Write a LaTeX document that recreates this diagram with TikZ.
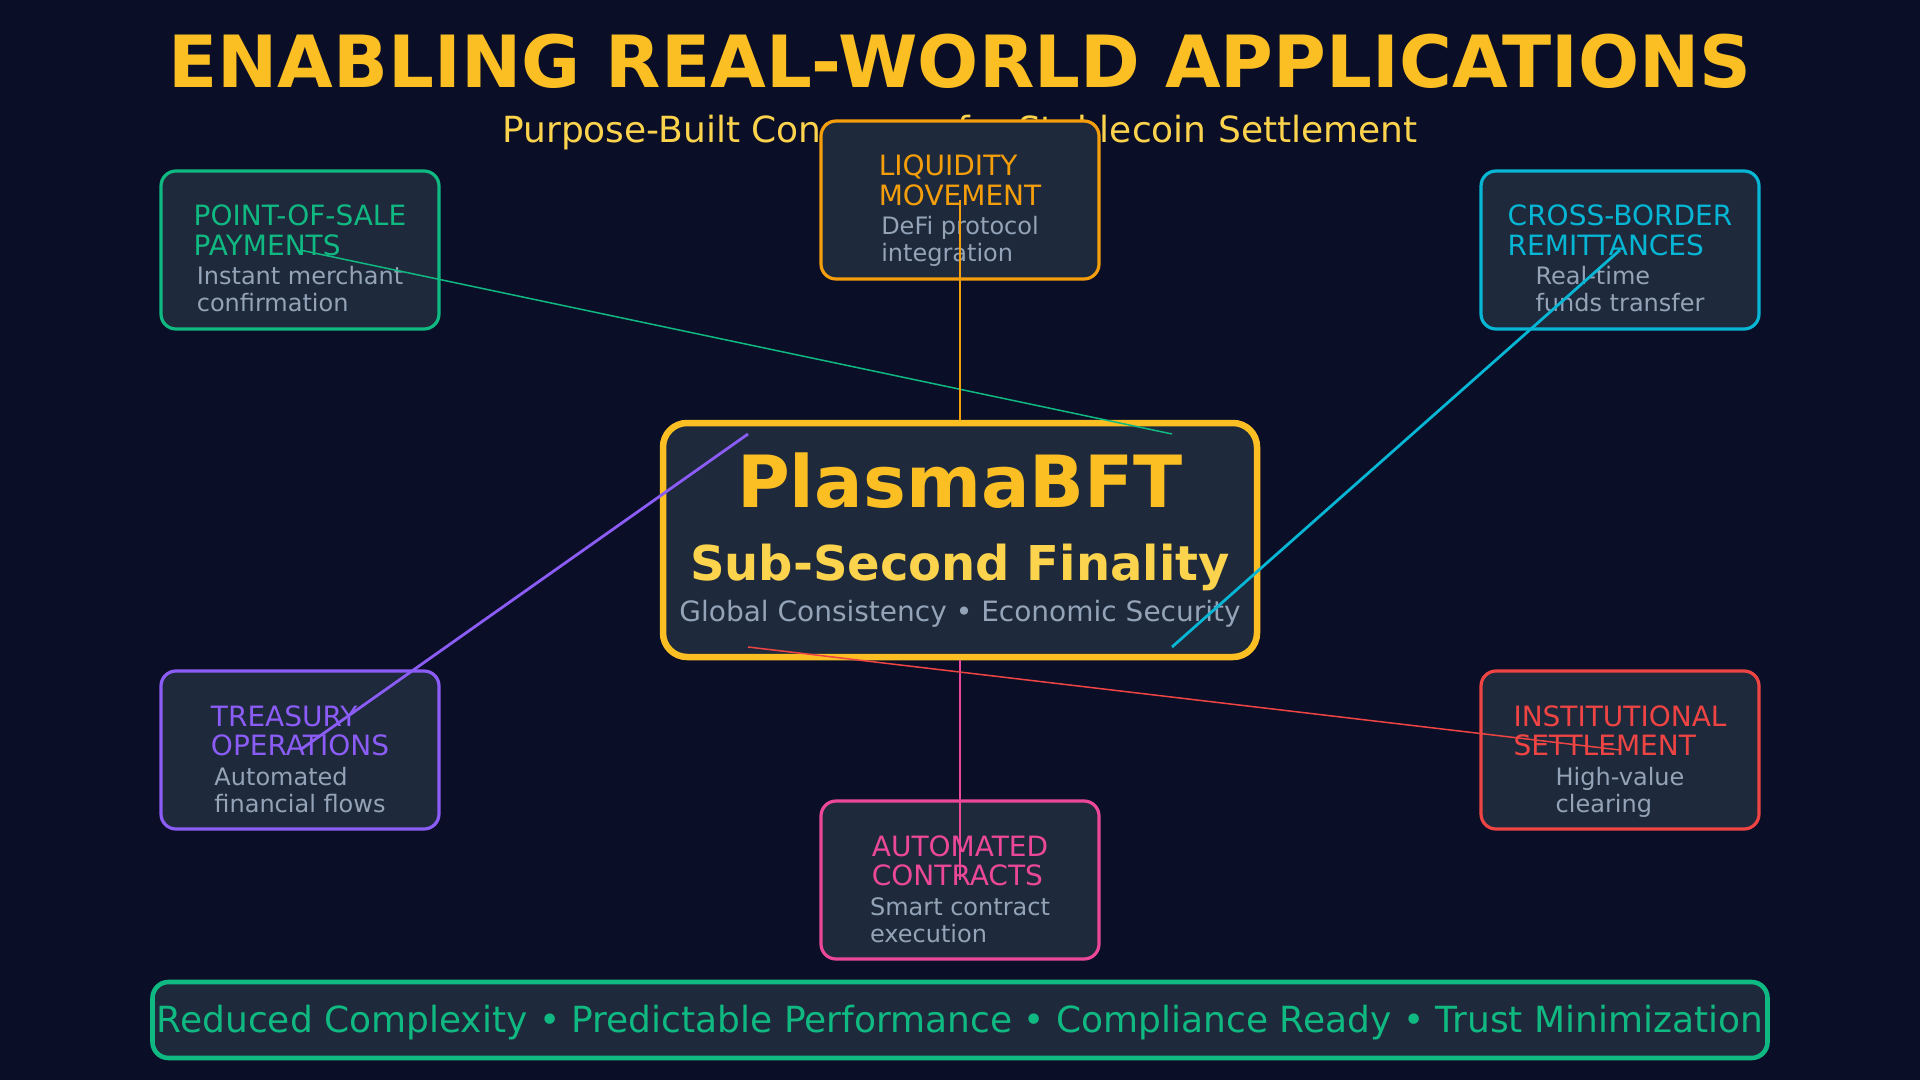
\documentclass[tikz,border=0pt]{standalone}
\usepackage{fontspec}
\setmainfont{DejaVu Sans}
\definecolor{bgnavy}{HTML}{0A0E27}
\definecolor{cardfill}{HTML}{1E293B}
\definecolor{amber}{HTML}{FBBF24}
\definecolor{amberlight}{HTML}{FCD34D}
\definecolor{slategray}{HTML}{94A3B8}
\definecolor{posgreen}{HTML}{10B981}
\definecolor{liqorange}{HTML}{F59E0B}
\definecolor{xbcyan}{HTML}{06B6D4}
\definecolor{trpurple}{HTML}{8B5CF6}
\definecolor{instred}{HTML}{EF4444}
\definecolor{autopink}{HTML}{EC4899}
\begin{document}
\begin{tikzpicture}[x=0.5pt,y=-0.5pt,
    card/.style={rectangle,draw,fill=cardfill,line width=1.6pt,rounded corners=7.5pt,minimum width=139pt,minimum height=79pt,inner sep=0pt},
    card title/.style={anchor=base,align=left,inner sep=0pt,font=\fontsize{14}{14.75}\selectfont},
    card text/.style={anchor=base,align=left,inner sep=0pt,text=slategray,font=\fontsize{12}{13.5}\selectfont},
    plain text/.style={anchor=base,inner sep=0pt},
    link/.style={line width=1.4pt}]
                \fill[bgnavy] (0,0) rectangle (1920,1080);
                \useasboundingbox (0,0) rectangle (1920,1080);

                \node[plain text,text=amber,font=\fontsize{36}{40}\selectfont\bfseries] at (960,88) (title) {ENABLING REAL-WORLD APPLICATIONS};
                \node[plain text,text=amberlight,font=\fontsize{18}{20}\selectfont] at (960,143) (subtitle) {Purpose-Built Consensus for Stablecoin Settlement};

                \node[rectangle,draw=amber,fill=cardfill,line width=3.25pt,rounded corners=12pt,minimum width=297pt,minimum height=117pt,inner sep=0pt] at (960,540) (hub) {};
                \node[plain text,text=amber,font=\fontsize{36}{40}\selectfont\bfseries] at (960,507) (hubname) {PlasmaBFT};
                \node[plain text,text=amberlight,font=\fontsize{24}{28}\selectfont\bfseries] at (960,580) (hubclaim) {Sub-Second Finality};
                \node[plain text,text=slategray,font=\fontsize{14}{16}\selectfont] at (960,621) (hubnote) {Global Consistency • Economic Security};

                \coordinate (hubNW) at (748,434);
                \coordinate (hubNE) at (1172,434);
                \coordinate (hubSW) at (748,647);
                \coordinate (hubSE) at (1172,647);

                % use cases (text nodes sit on their last baseline)
                \node[card,draw=posgreen] at (300,250) (pos) {};
                \node[card title,text=posgreen] at (300,255.5) (posT) {POINT-OF-SALE\\PAYMENTS};
                \node[card text] at (300,312) (posD) {Instant merchant\\confirmation};

                \node[card,draw=liqorange] at (960,200) (liq) {};
                \node[card title,text=liqorange] at (960,205.5) (liqT) {LIQUIDITY\\MOVEMENT};
                \node[card text] at (960,262) (liqD) {DeFi protocol\\integration};

                \node[card,draw=xbcyan] at (1620,250) (xb) {};
                \node[card title,text=xbcyan] at (1620,255.5) (xbT) {CROSS-BORDER\\REMITTANCES};
                \node[card text] at (1620,312) (xbD) {Real-time\\funds transfer};

                \node[card,draw=trpurple] at (300,750) (tr) {};
                \node[card title,text=trpurple] at (300,755.5) (trT) {TREASURY\\OPERATIONS};
                \node[card text] at (300,812) (trD) {Automated\\financial flows};

                \node[card,draw=autopink] at (960,880) (auto) {};
                \node[card title,text=autopink] at (960,885.5) (autoT) {AUTOMATED\\CONTRACTS};
                \node[card text] at (960,942) (autoD) {Smart contract\\execution};

                \node[card,draw=instred] at (1620,750) (inst) {};
                \node[card title,text=instred] at (1620,755.5) (instT) {INSTITUTIONAL\\SETTLEMENT};
                \node[card text] at (1620,812) (instD) {High-value\\clearing};

                \node[rectangle,draw=posgreen,fill=cardfill,line width=2.3pt,rounded corners=8pt,minimum width=807.5pt,minimum height=38pt,inner sep=0pt] at (960,1020) (bar) {};
                \node[plain text,text=posgreen,font=\fontsize{18}{20}\selectfont] at (960,1032) (barT) {Reduced Complexity • Predictable Performance • Compliance Ready • Trust Minimization};

                % links to the hub
                \path[link] (pos.center) edge[posgreen,line width=0.75pt] (hubNE);
                \path[link] (liq.center) edge[liqorange,line width=1.1pt] (hub.north);
                \path[link] (xb.center) edge[xbcyan] (hubSE);
                \path[link] (tr.center) edge[trpurple] (hubNW);
                \path[link] (auto.center) edge[autopink] (hub.south);
                \path[link] (inst.center) edge[instred,line width=0.75pt] (hubSW);
\end{tikzpicture}
\end{document}
